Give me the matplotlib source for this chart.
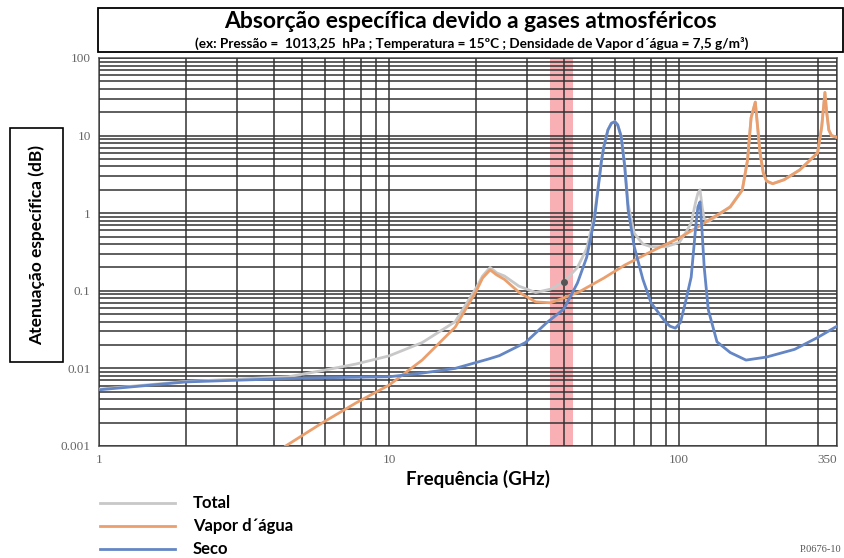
import numpy as np
import matplotlib
matplotlib.use("Agg")
import matplotlib.pyplot as plt
from matplotlib.patches import Rectangle
from matplotlib.lines import Line2D
from matplotlib.ticker import LogLocator, NullFormatter, FixedLocator, FixedFormatter

# dados (GHz, dB)
f_seco = [1, 2, 5, 10, 13, 16.9, 22, 24, 29.5, 35, 40, 44.6, 48, 51, 54, 55, 56.8, 58.4, 60,
          61.4, 63.1, 64.9, 66.7, 70, 75, 80, 90, 93, 97, 101, 105, 110, 114, 116, 118, 120,
          122, 126, 135, 150, 170, 200, 250, 300, 350]
a_seco = [0.0053, 0.0067, 0.0075, 0.0078, 0.0087, 0.0100, 0.0132, 0.0146, 0.0215, 0.039,
          0.058, 0.126, 0.27, 0.82, 4.8, 7.2, 11.8, 14.4, 15.1, 13.7, 9.7, 4.0, 1.1, 0.37,
          0.14, 0.07, 0.039, 0.035, 0.033, 0.039, 0.07, 0.15, 0.66, 1.2, 1.4, 0.56, 0.2,
          0.057, 0.022, 0.016, 0.0128, 0.014, 0.0176, 0.025, 0.035]

f_vapor = [4.4, 5.9, 7.7, 10, 13, 16.9, 20, 21, 22.3, 23.5, 25, 28, 32, 36, 40, 45, 55, 65,
           80, 100, 115, 130, 150, 165, 172, 177, 183, 186, 190, 195, 200, 210, 230, 260,
           290, 300, 310, 318, 322, 328, 335, 350]
a_vapor = [0.001, 0.0020, 0.0036, 0.0061, 0.0128, 0.034, 0.10, 0.146, 0.186, 0.16, 0.14,
           0.096, 0.072, 0.07, 0.081, 0.096, 0.146, 0.215, 0.32, 0.48, 0.65, 0.87, 1.2,
           1.98, 4.8, 17, 27, 14, 6, 3.3, 2.6, 2.4, 2.7, 3.6, 5.3, 6, 13, 36, 21, 11.8,
           10, 9.5]

f_total = [1, 2, 4.5, 5.9, 7.7, 10, 13, 16.9, 20, 21, 22.3, 23.5, 25, 28, 32, 36, 40, 44.6,
           48, 51, 54, 55, 56.8, 58.4, 60, 61.4, 63.1, 64.9, 66.7, 70, 75, 80, 90, 100, 105,
           110, 114, 116, 118, 120, 122, 126, 135, 150, 165, 172, 177, 183, 186, 190, 195,
           200, 210, 230, 260, 290, 300, 310, 318, 322, 328, 335, 350]
a_total = [0.0054, 0.0068, 0.0078, 0.0094, 0.0114, 0.0145, 0.0215, 0.040, 0.11, 0.155,
           0.2, 0.17, 0.155, 0.115, 0.095, 0.105, 0.13, 0.2, 0.35, 0.92, 4.9, 7.3, 11.9,
           14.5, 15.2, 13.8, 9.9, 4.2, 1.3, 0.55, 0.4, 0.37, 0.37, 0.42, 0.55, 0.75, 1.4,
           1.8, 2.0, 1.2, 0.85, 0.78, 0.92, 1.22, 2.0, 4.8, 17, 27, 14, 6, 3.3, 2.6, 2.4,
           2.7, 3.6, 5.3, 6, 13, 36, 21, 11.8, 10, 9.5]

banda = (36, 43)
ponto = (40, 0.13)

c_total = '#c8c8c8'
c_vapor = '#eb9f6c'
c_seco = '#6486c4'

fig = plt.figure(figsize=(8.44, 5.58), dpi=100)
ax = fig.add_axes([99/844, 1-446/558, (837-99)/844, (446-58)/558])

ax.axvspan(banda[0], banda[1], color='#f7a3a8', alpha=0.85, lw=0, zorder=1)
ax.plot(f_total, a_total, color=c_total, lw=2, zorder=4)
ax.plot(f_vapor, a_vapor, color=c_vapor, lw=2, zorder=5)
ax.plot(f_seco, a_seco, color=c_seco, lw=2, zorder=6)
ax.plot([ponto[0]], [ponto[1]], 'o', color='#555555', ms=4, zorder=7)

ax.set_xscale('log')
ax.set_yscale('log')
ax.set_xlim(1, 350)
ax.set_ylim(0.001, 100)

ax.xaxis.set_major_locator(FixedLocator([1, 10, 100, 350]))
ax.xaxis.set_major_formatter(FixedFormatter(['1', '10', '100', '350']))
ax.xaxis.set_minor_locator(LogLocator(base=10, subs=np.arange(2, 10), numticks=20))
ax.xaxis.set_minor_formatter(NullFormatter())
ax.yaxis.set_major_locator(FixedLocator([0.001, 0.01, 0.1, 1, 10, 100]))
ax.yaxis.set_major_formatter(FixedFormatter(['0.001', '0.01', '0.1', '1', '10', '100']))
ax.yaxis.set_minor_locator(LogLocator(base=10, subs=np.arange(2, 10), numticks=20))
ax.yaxis.set_minor_formatter(NullFormatter())

ax.grid(True, which='both', color='#333333', lw=1.1, zorder=3)
ax.set_axisbelow(False)
ax.tick_params(which='both', length=0, labelsize=9.5, labelcolor='#666666', pad=6)
for lab in ax.get_xticklabels() + ax.get_yticklabels():
    lab.set_fontfamily('Liberation Serif')
ax.get_xticklabels()[-1].set_horizontalalignment('right')
for s in ax.spines.values():
    s.set_color('#555555')
    s.set_linewidth(1.1)

# caixa do titulo
fig.patches.append(Rectangle((98/844, 1-52/558), (843-98)/844, 44/558, transform=fig.transFigure,
                             fill=False, ec='black', lw=1.3))
fig.text(0.557, 1-22/558, 'Absorção específica devido a gases atmosféricos', ha='center',
         va='center', fontsize=16.5, fontweight='bold', family='Lato')
fig.text(0.559, 1-43/558,
         '(ex: Pressão =  1013,25  hPa ; Temperatura = 15ºC ; Densidade de Vapor d´água = 7,5 g/m³)',
         ha='center', va='center', fontsize=9.8, fontweight='bold', family='Lato')

# caixa do eixo y
fig.patches.append(Rectangle((10/844, 1-362/558), 53/844, 234/558, transform=fig.transFigure,
                             fill=False, ec='black', lw=1.2))
fig.text(37/844, 1-245/558, 'Atenuação específica (dB)', rotation=90, ha='center', va='center',
         fontsize=12.5, fontweight='bold', family='Lato')

fig.text(478/844, 1-479/558, 'Frequência (GHz)', ha='center', va='center', fontsize=13.5,
         fontweight='bold', family='Lato')

# legenda
for yy, cor, nome in [(503, c_total, 'Total'), (526, c_vapor, 'Vapor d´água'), (549, c_seco, 'Seco')]:
    fig.lines.append(Line2D([100/844, 175/844], [1-yy/558, 1-yy/558], transform=fig.transFigure,
                            color=cor, lw=2))
    fig.text(193/844, 1-yy/558, nome, ha='left', va='center', fontsize=12, fontweight='bold',
             family='Lato')

fig.text(841/844, 1-549/558, 'P.0676-10', ha='right', va='center', fontsize=7.5,
         color='#555555', family='Liberation Serif')

fig.savefig('out.png', dpi=100)
